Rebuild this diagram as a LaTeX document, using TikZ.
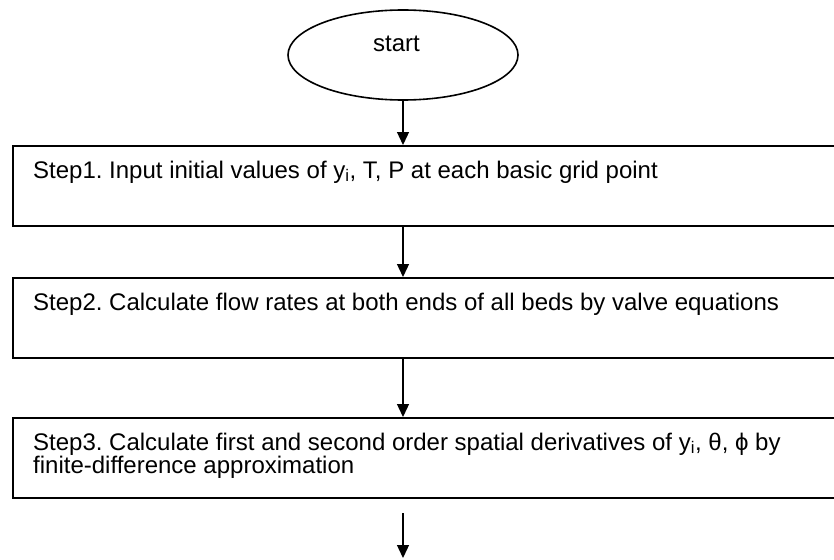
\documentclass[tikz,border=0pt]{standalone}
\usepackage{fontspec}
\setmainfont{Liberation Sans}
\frenchspacing
\usetikzlibrary{arrows.meta,shapes.geometric}
\begin{document}
\begin{tikzpicture}[x=1pt,y=-1pt,
  stepbox/.style={draw,line width=1.8pt,rectangle,anchor=north west,minimum width=840pt,minimum height=80pt,inner sep=0pt},
  steptext/.style={anchor=base west,inner sep=0pt,font=\fontsize{24}{20.5}\selectfont},
  flow/.style={line width=1.3pt,-{Triangle[length=13pt,width=12pt]}}]
\useasboundingbox (0,0) rectangle (834,559);
\node[draw,ellipse,line width=1.6pt,minimum width=230pt,minimum height=90pt,inner sep=0pt] (start) at (403,55) {};
\node[anchor=base,inner sep=0pt,font=\fontsize{24}{21.5}\selectfont] (starttext) at (396.5,52) {start};
\node[stepbox] (s1) at (12,145) {};
\node[stepbox] (s2) at (12,277) {};
\node[stepbox] (s3) at (12,417) {};
\node[steptext] (t1) at (33,178) {Step1. Input initial values of y\textsubscript{i}, T, P at each basic grid point};
\node[steptext] (t2) at (33,310) {Step2. Calculate flow rates at both ends of all beds by valve equations};
\node[steptext] (t3) at (33,450) {\parbox[t]{780pt}{\raggedright Step3. Calculate first and second order spatial derivatives of y\textsubscript{i}, θ, ϕ by\\finite-difference approximation}};
\coordinate (e1) at (403,513);
\coordinate (e2) at (403,558);
\draw[flow] (start.south) -- (start.south |- s1.north);
\draw[flow] (start.south |- s1.south) -- (start.south |- s2.north);
\draw[flow] (start.south |- s2.south) -- (start.south |- s3.north);
\draw[flow] (e1) -- (e2);
\end{tikzpicture}
\end{document}
